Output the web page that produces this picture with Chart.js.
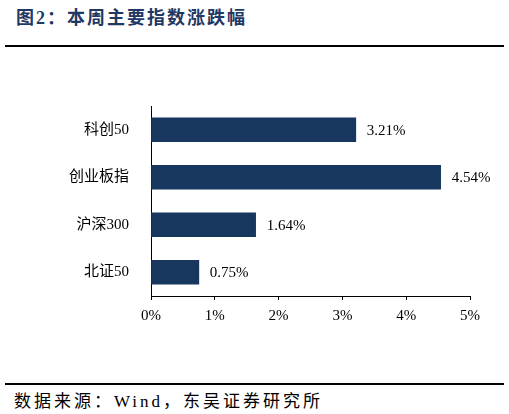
<!DOCTYPE html><html><head><meta charset="utf-8"><script src="https://cdn.jsdelivr.net/npm/chart.js@4"></script>
<style>body{margin:0;width:509px;height:414px;background:#fff;position:relative;font-family:"Liberation Serif","Noto Sans CJK SC",serif;overflow:hidden}
#t{position:absolute;left:16px;top:3px;font-size:18px;letter-spacing:2px;font-weight:bold;color:#1f3864;font-family:"Liberation Serif","Noto Sans CJK SC",serif}
.r{position:absolute;left:5px;width:499px;height:2px;background:#000}
#s{position:absolute;left:14px;top:387px;font-size:17px;letter-spacing:3px;color:#000}
#c{position:absolute;left:0;top:50px}</style></head><body>
<div id="t">图2：本周主要指数涨跌幅</div><div class="r" style="top:45px"></div><div class="r" style="top:383px"></div>
<div id="s">数据来源：Wind，东吴证券研究所</div>
<canvas id="c" width="509" height="282"></canvas>
<script>
const categories=["科创50","创业板指","沪深300","北证50"];
const values=[3.21,4.54,1.64,0.75];
const xTicks=[0,1,2,3,4,5];
const font={family:"'Liberation Serif','Noto Sans CJK SC',serif",size:15};
new Chart(document.getElementById('c'),{type:'bar',
data:{labels:categories,datasets:[{data:values,backgroundColor:'#17375e',barThickness:24}]},
plugins:[{id:'lbl',afterDatasetsDraw(ch){const c=ch.ctx;c.save();c.font="15px 'Liberation Serif'";c.fillStyle='#000';c.textBaseline='middle';
ch.getDatasetMeta(0).data.forEach((b,i)=>c.fillText(values[i].toFixed(2)+'%',b.x+11,b.y+1));c.restore();}}],
options:{indexAxis:'y',responsive:false,animation:false,devicePixelRatio:1,
layout:{padding:{top:56,right:39,left:0,bottom:0}},
plugins:{legend:{display:false},tooltip:{enabled:false}},
scales:{x:{min:0,max:5,afterBuildTicks(a){a.ticks=xTicks.map(v=>({value:v}));},
ticks:{callback:v=>v+'%',color:'#000',font,padding:7},grid:{display:true,drawOnChartArea:false,tickLength:4,color:'#000'},border:{color:'#000'}},
y:{afterFit(a){a.width=151;},ticks:{color:'#000',font,padding:14},grid:{display:false},border:{color:'#000'}}}}});
</script></body></html>
